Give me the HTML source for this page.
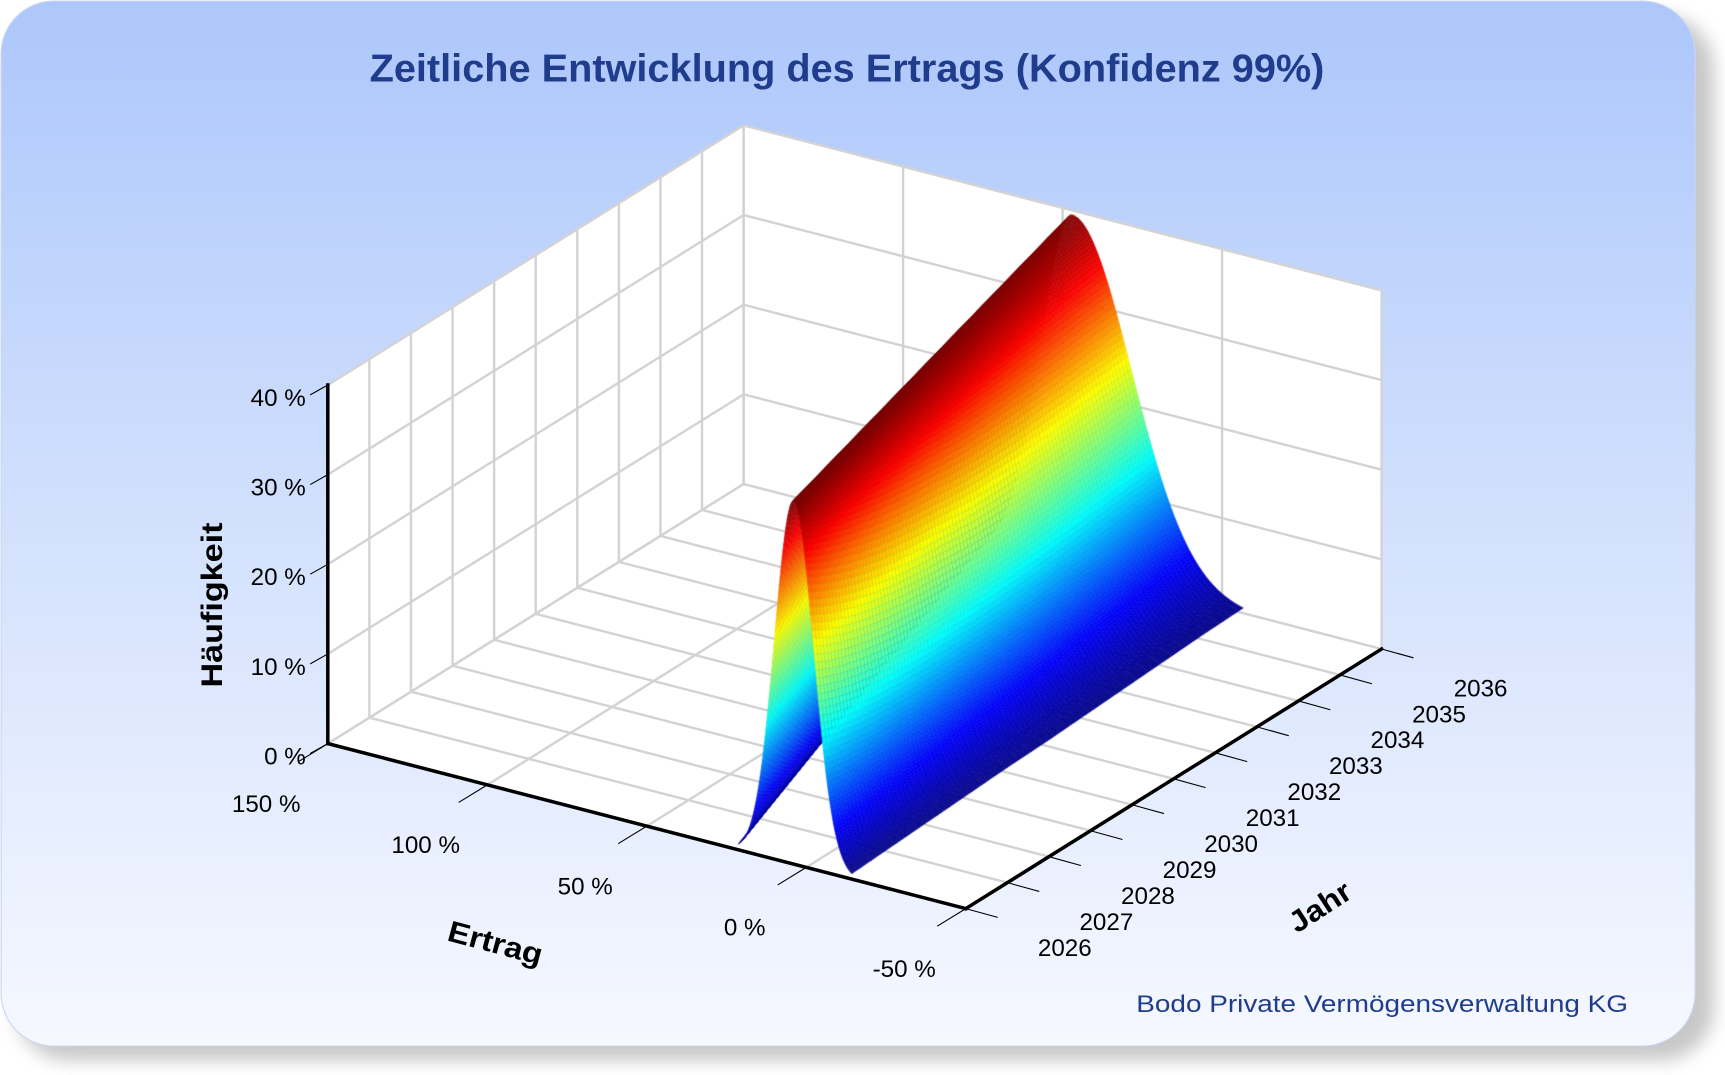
<!DOCTYPE html>
<html><head><meta charset="utf-8"><style>
html,body{margin:0;padding:0;background:#fff;}
#wrap{position:relative;width:1725px;height:1075px;overflow:hidden;}
svg,canvas{position:absolute;left:0;top:0;}
text{font-family:"Liberation Sans",sans-serif;}
</style></head><body>
<div id="wrap">
<svg id="bg" width="1725" height="1075" viewBox="0 0 1568.18 977.27">
<defs>
<linearGradient id="cardg" x1="0" y1="0" x2="0" y2="1"><stop offset="0" stop-color="#adc7fb"/><stop offset="0.55" stop-color="#d6e3fd"/><stop offset="1" stop-color="#f6f8ff"/></linearGradient>
<filter id="sh" x="-5%" y="-5%" width="115%" height="115%"><feGaussianBlur stdDeviation="8"/></filter>
</defs>
<rect x="14" y="14" width="1544" height="950" rx="48" fill="#9a9a9a" opacity="0.55" filter="url(#sh)"/>
<rect x="1" y="1" width="1540" height="950" rx="48" fill="url(#cardg)" stroke="#c9d6f3" stroke-width="1"/>
<g id="walls"></g>
</svg>
<canvas id="surf" width="1725" height="1075"></canvas>
<svg id="fg" width="1725" height="1075" viewBox="0 0 1568.18 977.27">
<text x="770" y="74" text-anchor="middle" font-size="35" font-weight="bold" fill="#1f3d8c" textLength="868" lengthAdjust="spacingAndGlyphs">Zeitliche Entwicklung des Ertrags (Konfidenz 99%)</text>
<g id="axes"></g>
<text transform="translate(202,550) rotate(-90)" text-anchor="middle" font-size="27" font-weight="bold" fill="#000" textLength="150" lengthAdjust="spacingAndGlyphs">Häufigkeit</text>
<text transform="translate(448,866) rotate(15)" text-anchor="middle" font-size="27" font-weight="bold" fill="#000" textLength="88" lengthAdjust="spacingAndGlyphs">Ertrag</text>
<text transform="translate(1205,832) rotate(-33)" text-anchor="middle" font-size="27" font-weight="bold" fill="#000" textLength="62" lengthAdjust="spacingAndGlyphs">Jahr</text>
<text x="1480" y="920" text-anchor="end" font-size="22" fill="#1f3d8c" textLength="447" lengthAdjust="spacingAndGlyphs">Bodo Private Vermögensverwaltung KG</text>
</svg>
</div>
<script>
// ---- data ----
const years = [2026,2027,2028,2029,2030,2031,2032,2033,2034,2035,2036];
const peakReturn = [4,8.3,12.6,16.9,21.2,25.5,29.8,34.1,38.4,42.7,47];
const peakHeight = [40.5,40.4,40.3,40.2,40.1,40,39.9,39.8,39.7,39.6,39.5];
const sigmaDown = [6.3,7.5,8.7,9.9,11.1,12.4,13.6,14.8,16.0,17.2,18.5];
const sigmaUp = [6,6.4,6.8,7.2,7.6,8,8.4,8.8,9.2,9.6,10];
const ertragTicks = [150,100,50,0,-50];
const zTicks = [0,10,20,30,40];

// ---- projection (display units) ----
const O={x:298,y:676}, F={x:878,y:826}, R={x:1256,y:590};
const EMAX=150, EMIN=-50, ZMAX=40, ZPX=326;
function P(e,yr,z){
  const u=(EMAX-e)/(EMAX-EMIN), v=(yr-years[0])/(years[years.length-1]-years[0]);
  return {x:O.x+u*(F.x-O.x)+v*(R.x-F.x), y:O.y+u*(F.y-O.y)+v*(R.y-F.y)-z/ZMAX*ZPX};
}
const NS='http://www.w3.org/2000/svg';
function mk(parent,tag,attrs,name){const el=document.createElementNS(NS,tag);for(const k in attrs)el.setAttribute(k,attrs[k]);


parent.appendChild(el);return el;}
const walls=document.getElementById('walls');
const y0=years[0], y1=years[years.length-1];
function poly(pts){return pts.map(p=>p.x+','+p.y).join(' ');}
mk(walls,'polygon',{points:poly([P(EMAX,y0,0),P(EMAX,y1,0),P(EMAX,y1,ZMAX),P(EMAX,y0,ZMAX)]),fill:'#fff'},'left-wall');
mk(walls,'polygon',{points:poly([P(EMAX,y1,0),P(EMIN,y1,0),P(EMIN,y1,ZMAX),P(EMAX,y1,ZMAX)]),fill:'#fff'},'back-wall');
mk(walls,'polygon',{points:poly([P(EMAX,y0,0),P(EMIN,y0,0),P(EMIN,y1,0),P(EMAX,y1,0)]),fill:'#fff'},'floor');
const gs={stroke:'#d3d3d3','stroke-width':2.2,fill:'none'};
function line(par,a,b,st,name){return mk(par,'line',Object.assign({x1:a.x,y1:a.y,x2:b.x,y2:b.y},st),name);}
years.forEach(yr=>{ line(walls,P(EMAX,yr,0),P(EMAX,yr,ZMAX),gs,'left-wall-gridline'); line(walls,P(EMAX,yr,0),P(EMIN,yr,0),gs,'floor-year-gridline'); });
ertragTicks.forEach(e=>{ line(walls,P(e,y1,0),P(e,y1,ZMAX),gs,'back-wall-gridline'); line(walls,P(e,y0,0),P(e,y1,0),gs,'floor-ertrag-gridline'); });
zTicks.forEach(z=>{ line(walls,P(EMAX,y0,z),P(EMAX,y1,z),gs,'left-wall-zline'); line(walls,P(EMAX,y1,z),P(EMIN,y1,z),gs,'back-wall-zline'); });

// ---- axes & labels ----
const ax=document.getElementById('axes');
const bs={stroke:'#000','stroke-width':3.2,'stroke-linecap':'square'};
const ts={stroke:'#000','stroke-width':1};
line(ax,P(EMAX,y0,0),P(EMAX,y0,ZMAX),bs,'z-axis-line');
line(ax,P(EMAX,y0,0),P(EMIN,y0,0),bs,'x-axis-line');
line(ax,P(EMIN,y0,0),P(EMIN,y1,0),bs,'y-axis-line');
zTicks.forEach(z=>{const p=P(EMAX,y0,z);
  line(ax,p,{x:p.x-16,y:p.y+9},ts,'z-tick');
  const t=mk(ax,'text',{x:278,y:p.y+19,'text-anchor':'end','font-size':22,fill:'#000'},'z-tick-label');t.textContent=z+' %';});
ertragTicks.forEach((e,i)=>{const p=P(e,y0,0);
  line(ax,p,{x:p.x-26,y:p.y+16},ts,'x-tick');
  const t=mk(ax,'text',{x:p.x-56,y:p.y+62,'text-anchor':'middle','font-size':22,fill:'#000'},'x-tick-label');t.textContent=e+' %';});
years.forEach(yr=>{const p=P(EMIN,yr,0);
  line(ax,p,{x:p.x+29,y:p.y+8},ts,'y-tick');
  const t=mk(ax,'text',{x:p.x+90,y:p.y+43,'text-anchor':'middle','font-size':22,fill:'#000'},'y-tick-label');t.textContent=yr;});

// ---- surface ----
function interp(arr,yr){const f=yr-y0;const i=Math.min(Math.floor(f),arr.length-2);const t=f-i;return arr[i]*(1-t)+arr[i+1]*t;}
function Z(e,yr){const m=interp(peakReturn,yr),h=interp(peakHeight,yr);const s=e<m?interp(sigmaDown,yr):interp(sigmaUp,yr);const d=(e-m)/s;return h*Math.exp(-0.5*d*d);}
function jet(t){t=Math.max(0,Math.min(1,t));const c=x=>Math.round(255*Math.max(0,Math.min(1,1.5-Math.abs(x))));
  return [c(4*t-3),c(4*t-2),c(4*t-1)];}
const cv=document.getElementById('surf');const ctx=cv.getContext('2d');ctx.scale(1.1,1.1);
const K=2.9, NE=160, NY=100, quads=[];
function eAt(yr,i){const m=interp(peakReturn,yr);const lo=m-K*interp(sigmaDown,yr), hi=m+K*interp(sigmaUp,yr);return hi-(hi-lo)*i/NE;}
for(let j=0;j<NY;j++){
  const ya=y0+(y1-y0)*j/NY, yb=y0+(y1-y0)*(j+1)/NY;
  for(let i=0;i<NE;i++){
    const ea0=eAt(ya,i), ea1=eAt(ya,i+1), eb0=eAt(yb,i), eb1=eAt(yb,i+1);
    const z00=Z(ea0,ya),z10=Z(ea1,ya),z11=Z(eb1,yb),z01=Z(eb0,yb);
    const zm=(z00+z10+z11+z01)/4;
    const u=(EMAX-(ea0+ea1+eb0+eb1)/4)/(EMAX-EMIN);
    quads.push({d:(j+0.5)/NY-u,pts:[P(ea0,ya,z00),P(ea1,ya,z10),P(eb1,yb,z11),P(eb0,yb,z01)],z:zm});
  }}
quads.sort((a,b)=>b.d-a.d);
ctx.lineJoin='round';
for(const q of quads){const [r,g,b]=jet(q.z/ZMAX);
  ctx.beginPath();ctx.moveTo(q.pts[0].x,q.pts[0].y);for(let k=1;k<4;k++)ctx.lineTo(q.pts[k].x,q.pts[k].y);ctx.closePath();
  ctx.fillStyle=`rgb(${r},${g},${b})`;ctx.fill();
  ctx.strokeStyle=`rgb(${Math.round(r*0.88)},${Math.round(g*0.88)},${Math.round(b*0.88)})`;ctx.lineWidth=0.4;ctx.stroke();}
</script>
</body></html>
